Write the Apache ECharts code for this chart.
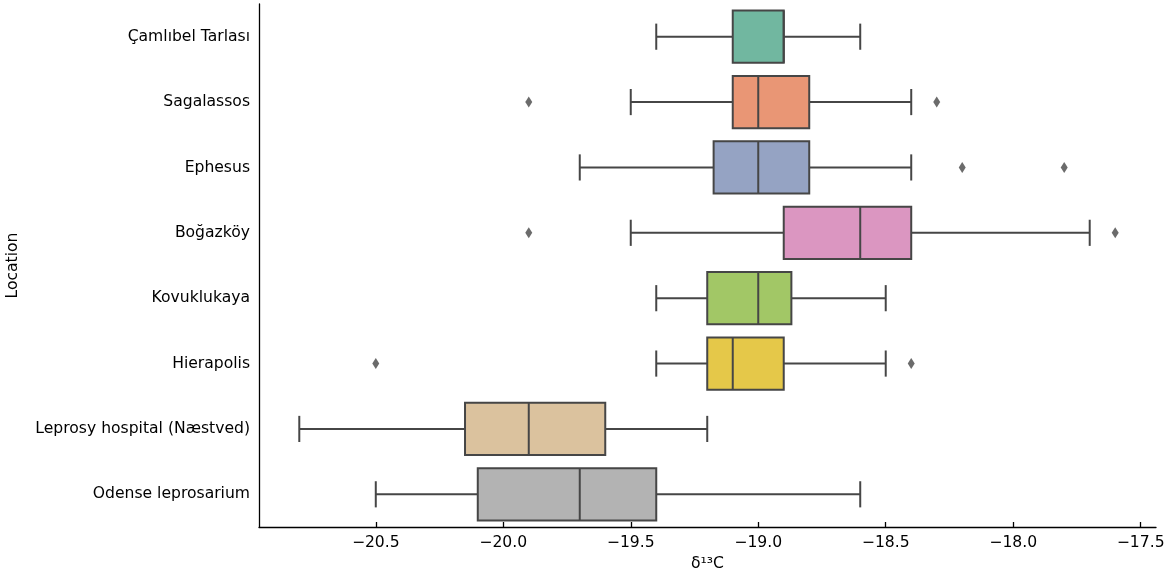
<!DOCTYPE html>
<html>
<head>
<meta charset="utf-8">
<script src="https://cdn.jsdelivr.net/npm/echarts@6/dist/echarts.min.js"></script>
<style>html,body{margin:0;padding:0;background:#fff}#c{width:1170px;height:575px}</style>
</head>
<body>
<div id="c"></div>
<script>
var categories = ['Çamlıbel Tarlası','Sagalassos','Ephesus','Boğazköy','Kovuklukaya','Hierapolis','Leprosy hospital (Næstved)','Odense leprosarium'];
var whiskerLow  = [-19.4, -19.5, -19.7, -19.5, -19.4, -19.4, -20.8, -20.5];
var q1          = [-19.1, -19.1, -19.175, -18.9, -19.2, -19.2, -20.15, -20.1];
var median      = [-18.9, -19.0, -19.0, -18.6, -19.0, -19.1, -19.9, -19.7];
var q3          = [-18.9, -18.8, -18.8, -18.4, -18.87, -18.9, -19.6, -19.4];
var whiskerHigh = [-18.6, -18.4, -18.4, -17.7, -18.5, -18.5, -19.2, -18.6];
var outliers = [
  [1, -19.9], [1, -18.3],
  [2, -18.2], [2, -17.8],
  [3, -19.9], [3, -17.6],
  [5, -20.5], [5, -18.4]
];
var xTicks = [-20.5, -20.0, -19.5, -19.0, -18.5, -18.0, -17.5];

var palette = ['#71b7a0','#e99675','#95a3c3','#db96c1','#a2c766','#e5c849','#dbc29e','#b3b3b3'];
var lineColor = '#464646';
var font = 'DejaVu Sans';

var boxData = categories.map(function (c, i) {
  return [i, whiskerLow[i], q1[i], median[i], q3[i], whiskerHigh[i]];
});
var outlierData = outliers.map(function (o) { return [o[1], o[0]]; });

function renderBox(params, api) {
  var idx = api.value(0);
  var band = api.size([0, 1])[1];
  var half = band * 0.4;
  var capHalf = half / 2;
  var pLow = api.coord([api.value(1), idx]);
  var pQ1 = api.coord([api.value(2), idx]);
  var pMed = api.coord([api.value(3), idx]);
  var pQ3 = api.coord([api.value(4), idx]);
  var pHigh = api.coord([api.value(5), idx]);
  var cy = pQ1[1];
  var ls = { stroke: lineColor, lineWidth: 2 };
  return {
    type: 'group',
    children: [
      { type: 'line', shape: { x1: pLow[0], y1: cy, x2: pQ1[0], y2: cy }, style: ls },
      { type: 'line', shape: { x1: pQ3[0], y1: cy, x2: pHigh[0], y2: cy }, style: ls },
      { type: 'line', shape: { x1: pLow[0], y1: cy - capHalf, x2: pLow[0], y2: cy + capHalf }, style: ls },
      { type: 'line', shape: { x1: pHigh[0], y1: cy - capHalf, x2: pHigh[0], y2: cy + capHalf }, style: ls },
      { type: 'rect', shape: { x: pQ1[0], y: cy - half, width: pQ3[0] - pQ1[0], height: 2 * half },
        style: { fill: palette[idx % palette.length], stroke: lineColor, lineWidth: 2 } },
      { type: 'line', shape: { x1: pMed[0], y1: cy - half, x2: pMed[0], y2: cy + half }, style: ls }
    ]
  };
}

var chart = echarts.init(document.getElementById('c'), null, { renderer: 'canvas' });
chart.setOption({
  animation: false,
  backgroundColor: '#fff',
  grid: { left: 259, right: 14, top: 4, bottom: 48, containLabel: false, outerBoundsMode: 'none' },
  xAxis: {
    type: 'value',
    min: -20.958,
    max: -17.44,
    name: 'δ¹³C',
    nameLocation: 'middle',
    nameGap: 28,
    nameTextStyle: { fontFamily: font, fontSize: 15.6, color: '#000' },
    splitLine: { show: false },
    axisLine: { show: true, lineStyle: { color: '#000', width: 1.3 } },
    axisTick: { show: true, inside: true, length: 5, lineStyle: { color: '#000', width: 1.3 }, customValues: xTicks },
    axisLabel: {
      fontFamily: font, fontSize: 15.6, color: '#000', margin: 8,
      customValues: xTicks,
      formatter: function (v) { return (v < 0 ? '\u2212' : '') + Math.abs(v).toFixed(1); }
    }
  },
  yAxis: {
    type: 'category',
    data: categories,
    inverse: true,
    name: 'Location',
    nameLocation: 'middle',
    nameGap: 238,
    nameTextStyle: { fontFamily: font, fontSize: 15.6, color: '#000' },
    axisLine: { show: true, lineStyle: { color: '#000', width: 1.3 } },
    axisTick: { show: false },
    splitLine: { show: false },
    axisLabel: { fontFamily: font, fontSize: 15.6, color: '#000', margin: 9, padding: [5, 0, 0, 0] }
  },
  series: [
    {
      type: 'custom',
      renderItem: renderBox,
      encode: { x: [1, 2, 3, 4, 5], y: 0 },
      data: boxData
    },
    {
      type: 'scatter',
      symbol: 'diamond',
      symbolSize: [7, 11],
      itemStyle: { color: '#464646' },
      data: outlierData
    }
  ]
});
</script>
</body>
</html>
